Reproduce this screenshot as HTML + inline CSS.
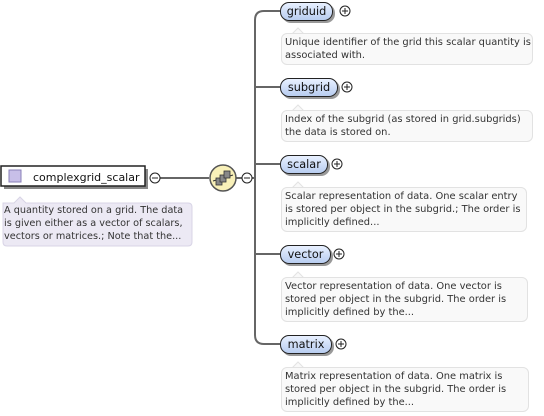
<!DOCTYPE html>
<html><head><meta charset="utf-8"><style>
html,body{margin:0;padding:0;background:#fff;}
body{width:544px;height:416px;position:relative;overflow:hidden;font-family:"DejaVu Sans","Liberation Sans",sans-serif;}
.doc{position:absolute;background:#f9f9f9;border:1px solid #e2e2e2;border-radius:6px;font-size:9.9px;line-height:13px;color:#333;padding:2px 3px;box-sizing:border-box;white-space:nowrap;}
.pill{position:absolute;height:19px;border:1.5px solid #222;border-radius:9px;background:linear-gradient(#e8f0ff,#b8cdf0);box-shadow:2px 2px 0 #999;font-size:11.3px;line-height:17px;text-align:center;box-sizing:border-box;color:#111;}
</style></head><body>
<svg width="544" height="416" style="position:absolute;left:0;top:0">
<g stroke="#666" stroke-width="2" fill="none">
<line x1="160" y1="178" x2="209" y2="178"/>
<line x1="235" y1="178" x2="242" y2="178"/>
<path d="M269 11 H264 Q255 11 255 20 V335 Q255 344 264 344 H280"/>
<line x1="255" y1="87" x2="280" y2="87"/>
<line x1="255" y1="164" x2="280" y2="164"/>
<line x1="255" y1="254" x2="280" y2="254"/>
<line x1="264" y1="11" x2="280" y2="11"/>
<line x1="251" y1="178" x2="255" y2="178"/>
</g>
<rect x="4" y="169" width="144" height="20" fill="#888"/>
<rect x="1" y="166" width="144" height="20" fill="#fff" stroke="#222" stroke-width="1.5"/>
<rect x="9" y="170" width="12" height="12" fill="#c8bfe8" stroke="#8a80b8"/>
<text x="33" y="181" font-size="11" font-family="DejaVu Sans, sans-serif" fill="#111">complexgrid_scalar</text>
<path d="M3 203 H14 L20 197 L26 203 H188 Q192 203 192 207 V242 Q192 246 188 246 H7 Q3 246 3 242 Z" fill="#ece9f4" stroke="#d8d4e6"/>
<text font-size="9.7" font-family="DejaVu Sans, sans-serif" fill="#333"><tspan x="4" y="213">A quantity stored on a grid. The data</tspan><tspan x="4" y="226">is given either as a vector of scalars,</tspan><tspan x="4" y="239">vectors or matrices.; Note that the...</tspan></text>
<g stroke="#222" fill="#fff" stroke-width="1"><circle cx="155" cy="178" r="5"/><circle cx="247" cy="178" r="5"/></g>
<g stroke="#222"><line x1="152" y1="178" x2="158" y2="178"/><line x1="244" y1="178" x2="250" y2="178"/></g>
<circle cx="223" cy="178" r="13" fill="#f8f0b8" stroke="#555" stroke-width="1.5"/>
<line x1="213" y1="181" x2="233" y2="175" stroke="#333"/>
<rect x="216" y="178" width="6" height="7" fill="#888" stroke="#333" stroke-width=".8"/>
<rect x="220" y="175" width="6" height="7" fill="#888" stroke="#333" stroke-width=".8"/>
<rect x="224" y="171" width="6" height="7" fill="#888" stroke="#333" stroke-width=".8"/>
<g stroke="#222" fill="#fff"><circle cx="345" cy="11" r="5"/><circle cx="347" cy="87" r="5"/><circle cx="337" cy="164" r="5"/><circle cx="339" cy="254" r="5"/><circle cx="341" cy="344" r="5"/></g>
<g stroke="#222"><path d="M342 11h6M345 8v6M344 87h6M347 84v6M334 164h6M337 161v6M336 254h6M339 251v6M338 344h6M341 341v6"/></g>
<g fill="#f9f9f9" stroke="#e2e2e2"><path d="M292 34 L298 28 L304 34"/><path d="M292 111 L298 105 L304 111"/><path d="M292 188 L298 182 L304 188"/><path d="M292 278 L298 272 L304 278"/><path d="M292 368 L298 362 L304 368"/></g>
</svg>
<div class="pill" style="left:280px;top:2px;width:53px;">griduid</div>
<div class="pill" style="left:280px;top:78px;width:58px;">subgrid</div>
<div class="pill" style="left:280px;top:155px;width:48px;">scalar</div>
<div class="pill" style="left:280px;top:245px;width:51px;">vector</div>
<div class="pill" style="left:280px;top:335px;width:52px;">matrix</div>
<div class="doc" style="left:281px;top:33px;width:252px;height:32px;">Unique identifier of the grid this scalar quantity is<br>associated with.</div>
<div class="doc" style="left:281px;top:110px;width:252px;height:32px;">Index of the subgrid (as stored in grid.subgrids)<br>the data is stored on.</div>
<div class="doc" style="left:281px;top:187px;width:246px;height:45px;">Scalar representation of data. One scalar entry<br>is stored per object in the subgrid.; The order is<br>implicitly defined...</div>
<div class="doc" style="left:281px;top:277px;width:247px;height:45px;">Vector representation of data. One vector is<br>stored per object in the subgrid. The order is<br>implicitly defined by the...</div>
<div class="doc" style="left:281px;top:367px;width:248px;height:45px;">Matrix representation of data. One matrix is<br>stored per object in the subgrid. The order is<br>implicitly defined by the...</div>
</body></html>
